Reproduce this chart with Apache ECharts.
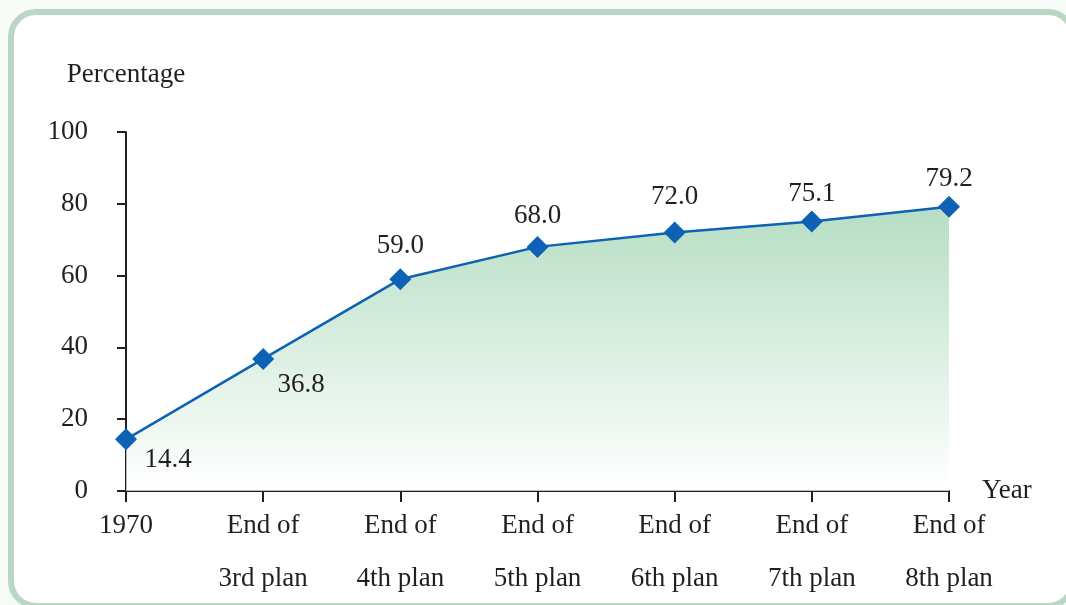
<!DOCTYPE html>
<html><head><meta charset="utf-8">
<script src="https://cdn.jsdelivr.net/npm/echarts@6/dist/echarts.min.js"></script>
<style>
html,body{margin:0;padding:0;background:#f7fbf8;overflow:hidden;}
#frame{position:absolute;left:8px;top:9px;width:1068px;height:600px;border:6px solid #b9d7c4;border-radius:28px;box-sizing:border-box;background:#fff;}
#chart{position:absolute;left:0;top:0;width:1066px;height:605px;}
</style></head>
<body>
<div id="frame"></div>
<div id="chart"></div>
<script>
const categories = ['1970', 'End of\n3rd plan', 'End of\n4th plan', 'End of\n5th plan', 'End of\n6th plan', 'End of\n7th plan', 'End of\n8th plan'];
const values = [14.4, 36.8, 59.0, 68.0, 72.0, 75.1, 79.2];
const yTicks = [0, 20, 40, 60, 80, 100];

// label placement (style only)
const labelPos = ['bottom', 'bottom', 'top', 'top', 'top', 'top', 'top'];
const labelOffset = [[42, -9], [38, -3], [0, -4], [0, -1], [0, -6], [0, 2], [0, 2]];

const font = '"Liberation Serif", "DejaVu Serif", serif';
const fs = 27;
const chart = echarts.init(document.getElementById('chart'), null, {renderer: 'canvas'});
chart.setOption({
  animation: false,
  grid: {left: 126, right: 117, top: 132, bottom: 114},
  xAxis: {
    type: 'category', data: categories, boundaryGap: false,
    name: 'Year', nameLocation: 'end', nameGap: 33, nameMoveOverlap: false,
    nameTextStyle: {fontFamily: font, fontSize: fs, color: '#231f20', align: 'left', verticalAlign: 'middle', padding: [4, 0, 0, 0]},
    axisLine: {lineStyle: {color: '#231f20', width: 2}},
    axisTick: {show: true, alignWithLabel: true, length: 11, lineStyle: {color: '#231f20', width: 2}},
    axisLabel: {fontFamily: font, fontSize: fs, color: '#231f20', lineHeight: 53, margin: 8, interval: 0},
    splitLine: {show: false}
  },
  yAxis: {
    type: 'value', min: 0, max: 100, interval: 20,
    name: 'Percentage', nameLocation: 'end', nameGap: 57, nameMoveOverlap: false,
    nameTextStyle: {fontFamily: font, fontSize: fs, color: '#231f20', align: 'center', verticalAlign: 'middle'},
    axisLine: {show: true, lineStyle: {color: '#231f20', width: 2}},
    axisTick: {show: true, length: 9, lineStyle: {color: '#231f20', width: 2}},
    axisLabel: {fontFamily: font, fontSize: fs, color: '#231f20', margin: 38,
      formatter: v => yTicks.includes(v) ? String(v) : ''},
    splitLine: {show: false}
  },
  series: [{
    type: 'line', data: values.map((v, i) => ({
      value: v,
      label: {position: labelPos[i], offset: labelOffset[i]}
    })),
    symbol: 'diamond', symbolSize: 22,
    lineStyle: {color: '#0d62b5', width: 2.5},
    itemStyle: {color: '#0d62b5'},
    areaStyle: {
      color: new echarts.graphic.LinearGradient(0, 0, 0, 1, [
        {offset: 0, color: '#96cfaa'},
        {offset: 1, color: '#ffffff'}
      ])
    },
    label: {show: true, fontFamily: font, fontSize: fs, color: '#231f20',
      formatter: p => p.value.toFixed(1)}
  }]
});
</script>
</body></html>
